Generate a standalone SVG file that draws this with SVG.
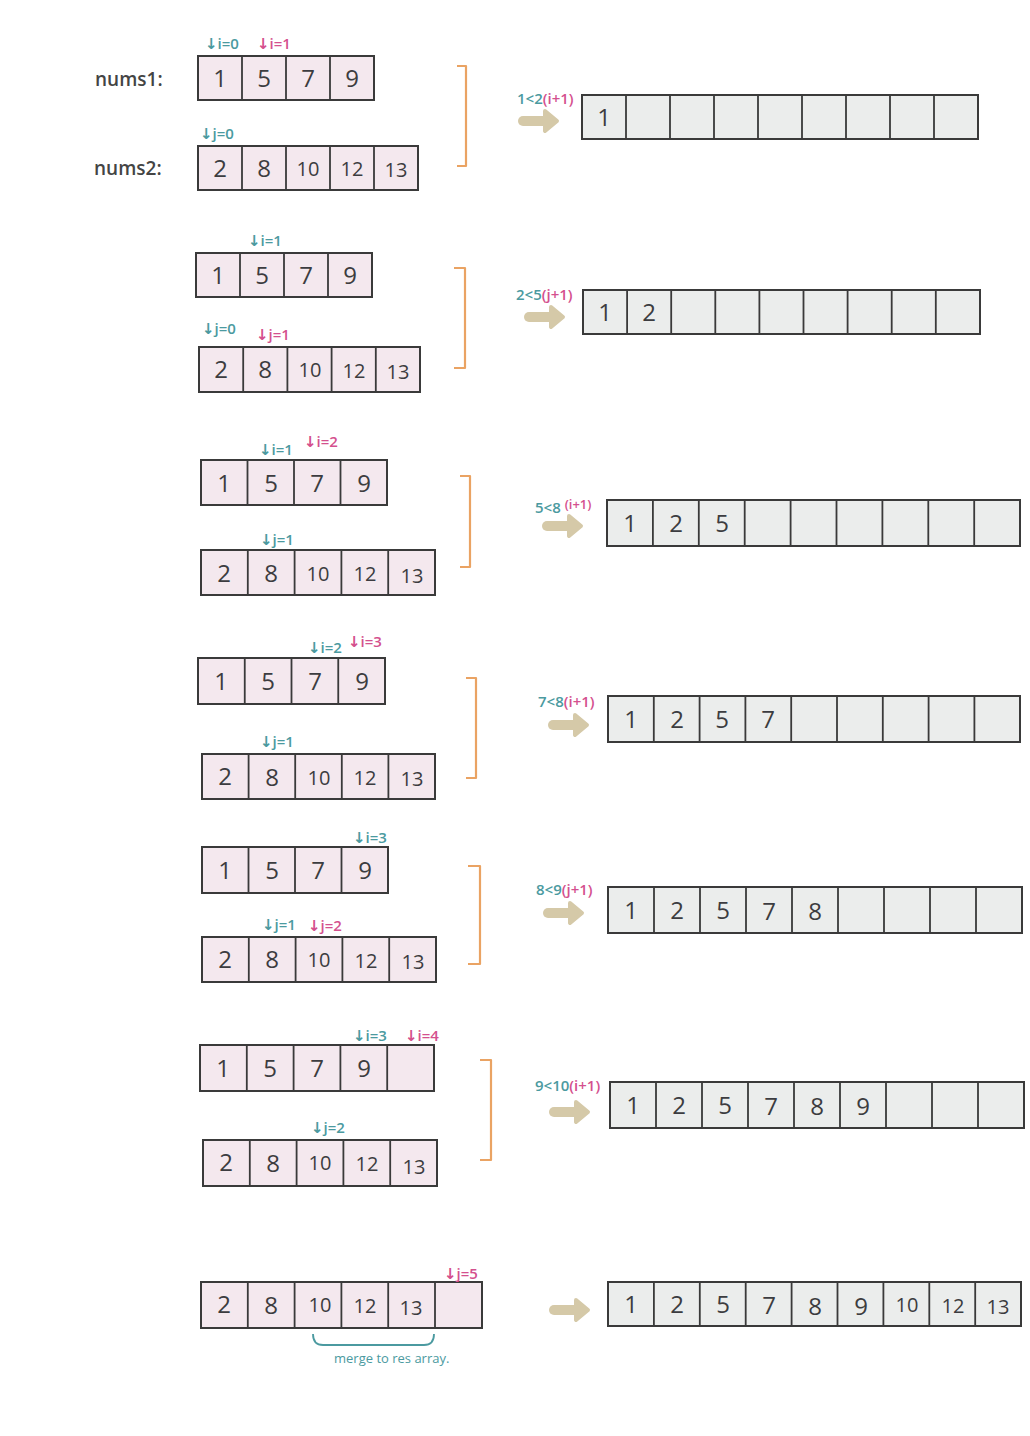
<svg xmlns="http://www.w3.org/2000/svg" xmlns:xlink="http://www.w3.org/1999/xlink" width="1030" height="1436" viewBox="0 0 1030 1436">
<style>
.a1{fill:#f4e8ee;stroke:#3a3a3a;stroke-width:2}
.a2{fill:#ebedec;stroke:#3a3a3a;stroke-width:2}
.dv{fill:none;stroke:#3a3a3a;stroke-width:1.8}
.n{font-family:"Open Sans","DejaVu Sans",sans-serif;font-size:24px;fill:#3c3c40;text-anchor:middle}
.n2{font-family:"Open Sans","DejaVu Sans",sans-serif;font-size:20px;fill:#3c3c40;text-anchor:middle}
.lbl{font-family:"Open Sans","DejaVu Sans",sans-serif;font-size:19px;font-weight:600;fill:#444}
.pt{font-family:"Open Sans","DejaVu Sans",sans-serif;font-size:15px;font-weight:600}
.rl{font-family:"Open Sans","DejaVu Sans",sans-serif;font-size:15px;font-weight:600}
.tl{fill:#4b9aa0}
.pk{fill:#d4508e}
.br{fill:none;stroke:#eaa363;stroke-width:2.2;stroke-linejoin:round}
.ub{fill:none;stroke:#4b9aa0;stroke-width:1.8}
.ms{font-family:"Open Sans","DejaVu Sans",sans-serif;font-size:13px;fill:#4b9aa0}
</style>
<defs>
<g id="fat">
<line x1="5" y1="0" x2="30" y2="0" stroke="#d5c9a8" stroke-width="10" stroke-linecap="round"/>
<polygon points="27,-10 39,0 27,10" fill="#d5c9a8" stroke="#d5c9a8" stroke-width="4" stroke-linejoin="round"/>
</g>
</defs>

<g id="connectors">
<path class="br" d="M457 66 H466 V166 H457"/>
<path class="br" d="M454 268 H465 V368 H454"/>
<path class="br" d="M460 476 H470 V567 H460"/>
<path class="br" d="M466 678 H476 V778 H466"/>
<path class="br" d="M468 866 H480 V964 H468"/>
<path class="br" d="M480 1060 H491 V1160 H480"/>
<use xlink:href="#fat" x="518" y="121"/>
<use xlink:href="#fat" x="524" y="317"/>
<use xlink:href="#fat" x="542" y="526"/>
<use xlink:href="#fat" x="548" y="725"/>
<use xlink:href="#fat" x="543" y="913"/>
<use xlink:href="#fat" x="549" y="1112"/>
<use xlink:href="#fat" x="549" y="1310"/>
<path class="ub" d="M313 1334 Q313 1345 323 1345 H424 Q434 1345 434 1334"/>
<text class="ms" x="334" y="1363">merge to res array.</text>
</g>

<g id="labels">
<text class="lbl" x="95" y="86">nums1:</text>
<text class="lbl" x="94" y="175">nums2:</text>
</g>

<!-- Step 1 -->
<g id="s1-nums1">
<rect class="a1" x="198" y="56" width="176" height="44"/>
<path class="dv" d="M242 56V100M286 56V100M330 56V100"/>
<text class="n" x="220" y="87">1</text><text class="n" x="264" y="87">5</text><text class="n" x="308" y="87">7</text><text class="n" x="352" y="87">9</text>
<text class="pt tl" x="205" y="49">↓i=0</text><text class="pt pk" x="257" y="49">↓i=1</text>
</g>
<g id="s1-nums2">
<rect class="a1" x="198" y="146" width="220" height="44"/>
<path class="dv" d="M242 146V190M286 146V190M330 146V190M374 146V190"/>
<text class="n" x="220" y="177">2</text><text class="n" x="264" y="177">8</text><text class="n2" x="308" y="176">10</text><text class="n2" x="352" y="176">12</text><text class="n2" x="396" y="177">13</text>
<text class="pt tl" x="200" y="139">↓j=0</text>
</g>
<g id="s1-res">
<rect class="a2" x="582" y="95" width="396" height="44"/>
<path class="dv" d="M626 95V139M670 95V139M714 95V139M758 95V139M802 95V139M846 95V139M890 95V139M934 95V139"/>
<text class="n" x="604" y="126">1</text>
<text class="rl" x="517" y="104"><tspan class="tl">1&lt;2</tspan><tspan class="pk">(i+1)</tspan></text>
</g>

<!-- Step 2 -->
<g id="s2-nums1">
<rect class="a1" x="196" y="253" width="176" height="44"/>
<path class="dv" d="M240 253V297M284 253V297M328 253V297"/>
<text class="n" x="218" y="284">1</text><text class="n" x="262" y="284">5</text><text class="n" x="306" y="284">7</text><text class="n" x="350" y="284">9</text>
<text class="pt tl" x="248" y="246">↓i=1</text>
</g>
<g id="s2-nums2">
<rect class="a1" x="199" y="347" width="221" height="45"/>
<path class="dv" d="M243.2 347V392M287.4 347V392M331.6 347V392M375.8 347V392"/>
<text class="n" x="221" y="378">2</text><text class="n" x="265" y="378">8</text><text class="n2" x="310" y="377">10</text><text class="n2" x="354" y="378">12</text><text class="n2" x="398" y="379">13</text>
<text class="pt tl" x="202" y="334">↓j=0</text><text class="pt pk" x="256" y="340">↓j=1</text>
</g>
<g id="s2-res">
<rect class="a2" x="583" y="290" width="397" height="44"/>
<path class="dv" d="M627.1 290V334M671.2 290V334M715.3 290V334M759.4 290V334M803.5 290V334M847.6 290V334M891.7 290V334M935.8 290V334"/>
<text class="n" x="605" y="321">1</text><text class="n" x="649" y="321">2</text>
<text class="rl" x="516" y="300"><tspan class="tl">2&lt;5</tspan><tspan class="pk">(j+1)</tspan></text>
</g>

<!-- Step 3 -->
<g id="s3-nums1">
<rect class="a1" x="201" y="460" width="186" height="45"/>
<path class="dv" d="M247.5 460V505M294 460V505M340.5 460V505"/>
<text class="n" x="224" y="492">1</text><text class="n" x="271" y="492">5</text><text class="n" x="317" y="492">7</text><text class="n" x="364" y="492">9</text>
<text class="pt tl" x="259" y="455" font-size="17">↓i=1</text><text class="pt pk" x="304" y="447">↓i=2</text>
</g>
<g id="s3-nums2">
<rect class="a1" x="201" y="550" width="234" height="45"/>
<path class="dv" d="M247.8 550V595M294.6 550V595M341.4 550V595M388.2 550V595"/>
<text class="n" x="224" y="582">2</text><text class="n" x="271" y="582">8</text><text class="n2" x="318" y="581">10</text><text class="n2" x="365" y="581">12</text><text class="n2" x="412" y="583">13</text>
<text class="pt tl" x="260" y="545">↓j=1</text>
</g>
<g id="s3-res">
<rect class="a2" x="607" y="500" width="413" height="46"/>
<path class="dv" d="M652.9 500V546M698.8 500V546M744.7 500V546M790.6 500V546M836.5 500V546M882.4 500V546M928.3 500V546M974.2 500V546"/>
<text class="n" x="630" y="532">1</text><text class="n" x="676" y="532">2</text><text class="n" x="722" y="532">5</text>
<text class="rl" x="535" y="513"><tspan class="tl">5&lt;8 </tspan><tspan class="pk" dy="-4" font-size="13">(i+1)</tspan></text>
</g>

<!-- Step 4 -->
<g id="s4-nums1">
<rect class="a1" x="198" y="658" width="187" height="46"/>
<path class="dv" d="M244.75 658V704M291.5 658V704M338.25 658V704"/>
<text class="n" x="221" y="690">1</text><text class="n" x="268" y="690">5</text><text class="n" x="315" y="690">7</text><text class="n" x="362" y="690">9</text>
<text class="pt tl" x="308" y="653">↓i=2</text><text class="pt pk" x="348" y="647">↓i=3</text>
</g>
<g id="s4-nums2">
<rect class="a1" x="202" y="754" width="233" height="45"/>
<path class="dv" d="M248.6 754V799M295.2 754V799M341.8 754V799M388.4 754V799"/>
<text class="n" x="225" y="785">2</text><text class="n" x="272" y="786">8</text><text class="n2" x="319" y="785">10</text><text class="n2" x="365" y="785">12</text><text class="n2" x="412" y="786">13</text>
<text class="pt tl" x="260" y="747">↓j=1</text>
</g>
<g id="s4-res">
<rect class="a2" x="608" y="696" width="412" height="46"/>
<path class="dv" d="M653.8 696V742M699.6 696V742M745.4 696V742M791.2 696V742M837 696V742M882.8 696V742M928.6 696V742M974.4 696V742"/>
<text class="n" x="631" y="728">1</text><text class="n" x="677" y="728">2</text><text class="n" x="722" y="728">5</text><text class="n" x="768" y="728">7</text>
<text class="rl" x="538" y="707"><tspan class="tl">7&lt;8</tspan><tspan class="pk">(i+1)</tspan></text>
</g>

<!-- Step 5 -->
<g id="s5-nums1">
<rect class="a1" x="202" y="847" width="186" height="46"/>
<path class="dv" d="M248.5 847V893M295 847V893M341.5 847V893"/>
<text class="n" x="225" y="879">1</text><text class="n" x="272" y="879">5</text><text class="n" x="318" y="879">7</text><text class="n" x="365" y="879">9</text>
<text class="pt tl" x="353" y="843" font-size="18">↓i=3</text>
</g>
<g id="s5-nums2">
<rect class="a1" x="202" y="937" width="234" height="45"/>
<path class="dv" d="M248.8 937V982M295.6 937V982M342.4 937V982M389.2 937V982"/>
<text class="n" x="225" y="968">2</text><text class="n" x="272" y="968">8</text><text class="n2" x="319" y="967">10</text><text class="n2" x="366" y="968">12</text><text class="n2" x="413" y="969">13</text>
<text class="pt tl" x="262" y="930">↓j=1</text><text class="pt pk" x="308" y="931">↓j=2</text>
</g>
<g id="s5-res">
<rect class="a2" x="608" y="887" width="414" height="46"/>
<path class="dv" d="M654 887V933M700 887V933M746 887V933M792 887V933M838 887V933M884 887V933M930 887V933M976 887V933"/>
<text class="n" x="631" y="919">1</text><text class="n" x="677" y="919">2</text><text class="n" x="723" y="919">5</text><text class="n" x="769" y="920" font-size="27">7</text><text class="n" x="815" y="920" font-size="27">8</text>
<text class="rl" x="536" y="895"><tspan class="tl">8&lt;9</tspan><tspan class="pk">(j+1)</tspan></text>
</g>

<!-- Step 6 -->
<g id="s6-nums1">
<rect class="a1" x="200" y="1045" width="234" height="46"/>
<path class="dv" d="M246.8 1045V1091M293.6 1045V1091M340.4 1045V1091M387.2 1045V1091"/>
<text class="n" x="223" y="1077">1</text><text class="n" x="270" y="1077">5</text><text class="n" x="317" y="1077">7</text><text class="n" x="364" y="1077">9</text>
<text class="pt tl" x="353" y="1041" font-size="17">↓i=3</text><text class="pt pk" x="405" y="1041">↓i=4</text>
</g>
<g id="s6-nums2">
<rect class="a1" x="203" y="1140" width="234" height="46"/>
<path class="dv" d="M249.8 1140V1186M296.6 1140V1186M343.4 1140V1186M390.2 1140V1186"/>
<text class="n" x="226" y="1171">2</text><text class="n" x="273" y="1172">8</text><text class="n2" x="320" y="1170">10</text><text class="n2" x="367" y="1171">12</text><text class="n2" x="414" y="1174">13</text>
<text class="pt tl" x="311" y="1133">↓j=2</text>
</g>
<g id="s6-res">
<rect class="a2" x="610" y="1082" width="414" height="46"/>
<path class="dv" d="M656 1082V1128M702 1082V1128M748 1082V1128M794 1082V1128M840 1082V1128M886 1082V1128M932 1082V1128M978 1082V1128"/>
<text class="n" x="633" y="1114">1</text><text class="n" x="679" y="1114">2</text><text class="n" x="725" y="1114">5</text><text class="n" x="771" y="1115">7</text><text class="n" x="817" y="1115" font-size="27">8</text><text class="n" x="863" y="1115" font-size="27">9</text>
<text class="rl" x="535" y="1091"><tspan class="tl">9&lt;10</tspan><tspan class="pk">(i+1)</tspan></text>
</g>

<!-- Step 7 -->
<g id="s7-nums2">
<rect class="a1" x="201" y="1282" width="281" height="46"/>
<path class="dv" d="M247.8 1282V1328M294.6 1282V1328M341.4 1282V1328M388.2 1282V1328M435 1282V1328"/>
<text class="n" x="224" y="1313">2</text><text class="n" x="271" y="1314">8</text><text class="n2" x="320" y="1312">10</text><text class="n2" x="365" y="1313">12</text><text class="n2" x="411" y="1315">13</text>
<text class="pt pk" x="444" y="1279">↓j=5</text>
</g>
<g id="s7-res">
<rect class="a2" x="608" y="1282" width="413" height="44"/>
<path class="dv" d="M653.9 1282V1326M699.8 1282V1326M745.7 1282V1326M791.6 1282V1326M837.5 1282V1326M883.4 1282V1326M929.3 1282V1326M975.2 1282V1326"/>
<text class="n" x="631" y="1313">1</text><text class="n" x="677" y="1313">2</text><text class="n" x="723" y="1313">5</text><text class="n" x="769" y="1314">7</text><text class="n" x="815" y="1315" font-size="27">8</text><text class="n" x="861" y="1315" font-size="27">9</text><text class="n2" x="907" y="1312">10</text><text class="n2" x="953" y="1313">12</text><text class="n2" x="998" y="1314">13</text>
</g>
</svg>
